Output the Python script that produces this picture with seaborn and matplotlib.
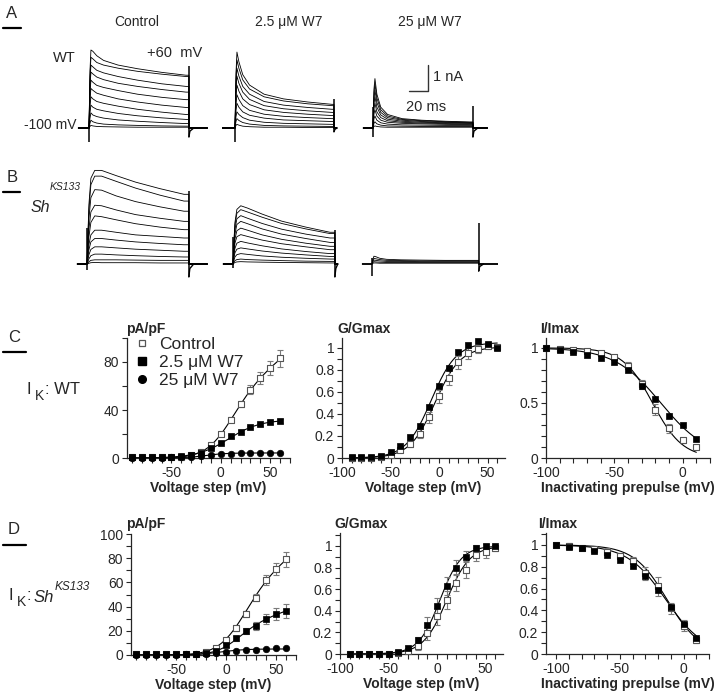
#!/usr/bin/env python3
"""
W7 block of I_K in WT and Sh^KS133 larval muscle: current traces,
I-V, conductance-voltage and steady-state inactivation curves.
"""

import numpy as np
import pandas as pd
import matplotlib
matplotlib.use("Agg")
import matplotlib.pyplot as plt
from matplotlib.lines import Line2D
from matplotlib.ticker import MultipleLocator, FuncFormatter
import seaborn as sns

sns.set_style("ticks")
plt.rcParams['font.family'] = ['Liberation Sans', 'DejaVu Sans']
plt.rcParams['axes.unicode_minus'] = False
NARROW = ['Liberation Sans', 'DejaVu Sans']

# =============================================================================
# DATA
# =============================================================================
# current traces (nA) sampled at these times (ms) after step onset
trace_t = [0, 1, 2, 4, 8, 15, 30, 50, 75, 100]

wt_control = [
    [0, 2.2, 3.0, 2.95, 2.78, 2.6, 2.42, 2.28, 2.14, 2.03],
    [0, 2.0, 2.72, 2.66, 2.52, 2.42, 2.3, 2.18, 2.07, 1.98],
    [0, 1.8, 2.42, 2.35, 2.22, 2.12, 1.98, 1.84, 1.7, 1.6],
    [0, 1.6, 2.15, 2.08, 1.96, 1.86, 1.72, 1.6, 1.48, 1.38],
    [0, 1.35, 1.84, 1.76, 1.64, 1.56, 1.44, 1.3, 1.18, 1.09],
    [0, 1.1, 1.52, 1.45, 1.34, 1.26, 1.12, 1.0, 0.88, 0.79],
    [0, 0.85, 1.2, 1.12, 1.02, 0.95, 0.84, 0.72, 0.61, 0.52],
    [0, 0.6, 0.88, 0.8, 0.72, 0.66, 0.56, 0.47, 0.39, 0.33],
    [0, 0.38, 0.58, 0.5, 0.44, 0.38, 0.31, 0.26, 0.21, 0.17],
    [0, 0.18, 0.3, 0.24, 0.19, 0.15, 0.12, 0.1, 0.08, 0.07],
    [0, 0.06, 0.1, 0.08, 0.06, 0.05, 0.04, 0.03, 0.03, 0.03],
]
wt_w7_low = [
    [0, 2.1, 2.92, 2.55, 2.05, 1.65, 1.3, 1.12, 1.0, 0.91],
    [0, 1.9, 2.62, 2.3, 1.85, 1.5, 1.2, 1.04, 0.93, 0.86],
    [0, 1.65, 2.3, 2.0, 1.6, 1.3, 1.02, 0.88, 0.79, 0.72],
    [0, 1.45, 2.0, 1.72, 1.38, 1.1, 0.86, 0.74, 0.66, 0.6],
    [0, 1.2, 1.65, 1.42, 1.12, 0.9, 0.7, 0.6, 0.53, 0.48],
    [0, 0.92, 1.28, 1.1, 0.86, 0.68, 0.53, 0.45, 0.4, 0.36],
    [0, 0.68, 0.95, 0.8, 0.62, 0.49, 0.38, 0.31, 0.28, 0.25],
    [0, 0.44, 0.62, 0.52, 0.4, 0.3, 0.22, 0.18, 0.16, 0.14],
    [0, 0.25, 0.36, 0.29, 0.21, 0.15, 0.1, 0.08, 0.07, 0.06],
    [0, 0.1, 0.14, 0.11, 0.07, 0.05, 0.03, 0.03, 0.02, 0.02],
]
wt_w7_high = [
    [0, 1.5, 1.9, 1.3, 0.8, 0.52, 0.36, 0.3, 0.26, 0.23],
    [0, 1.35, 1.7, 1.15, 0.7, 0.46, 0.33, 0.28, 0.24, 0.22],
    [0, 1.15, 1.45, 0.98, 0.6, 0.4, 0.3, 0.25, 0.22, 0.2],
    [0, 0.95, 1.2, 0.8, 0.5, 0.34, 0.26, 0.22, 0.2, 0.18],
    [0, 0.75, 0.95, 0.62, 0.4, 0.28, 0.22, 0.19, 0.17, 0.16],
    [0, 0.55, 0.7, 0.46, 0.3, 0.22, 0.18, 0.16, 0.14, 0.13],
    [0, 0.36, 0.46, 0.3, 0.2, 0.15, 0.12, 0.11, 0.1, 0.1],
    [0, 0.18, 0.24, 0.16, 0.11, 0.08, 0.07, 0.06, 0.06, 0.06],
    [0, 0.06, 0.08, 0.06, 0.04, 0.03, 0.03, 0.03, 0.03, 0.03],
]
sh_control = [
    [0, 1.2, 2.3, 3.3, 3.6, 3.6, 3.4, 3.15, 2.9, 2.68],
    [0, 1.1, 2.1, 3.05, 3.38, 3.38, 3.18, 2.92, 2.65, 2.42],
    [0, 0.9, 1.75, 2.55, 2.86, 2.84, 2.62, 2.4, 2.2, 2.03],
    [0, 0.7, 1.35, 2.0, 2.26, 2.24, 2.08, 1.9, 1.76, 1.64],
    [0, 0.55, 1.05, 1.6, 1.85, 1.82, 1.7, 1.55, 1.42, 1.32],
    [0, 0.38, 0.75, 1.12, 1.3, 1.3, 1.22, 1.12, 1.06, 1.0],
    [0, 0.28, 0.55, 0.85, 0.98, 0.98, 0.92, 0.85, 0.79, 0.74],
    [0, 0.18, 0.36, 0.56, 0.66, 0.66, 0.62, 0.57, 0.53, 0.49],
    [0, 0.1, 0.2, 0.32, 0.38, 0.38, 0.35, 0.32, 0.29, 0.27],
    [0, 0.04, 0.09, 0.14, 0.16, 0.16, 0.16, 0.15, 0.14, 0.14],
    [0, 0.01, 0.03, 0.05, 0.06, 0.05, 0.05, 0.05, 0.04, 0.04],
]
sh_w7_low = [
    [0, 0.9, 1.6, 2.1, 2.24, 2.15, 1.92, 1.65, 1.42, 1.22],
    [0, 0.85, 1.5, 1.95, 2.09, 2.0, 1.8, 1.56, 1.35, 1.17],
    [0, 0.75, 1.32, 1.74, 1.86, 1.76, 1.56, 1.34, 1.15, 1.0],
    [0, 0.65, 1.15, 1.52, 1.64, 1.55, 1.35, 1.15, 0.98, 0.83],
    [0, 0.55, 0.96, 1.28, 1.38, 1.3, 1.12, 0.95, 0.8, 0.68],
    [0, 0.45, 0.8, 1.05, 1.13, 1.06, 0.92, 0.78, 0.66, 0.55],
    [0, 0.34, 0.6, 0.8, 0.87, 0.81, 0.7, 0.58, 0.48, 0.4],
    [0, 0.24, 0.43, 0.57, 0.62, 0.58, 0.5, 0.42, 0.35, 0.29],
    [0, 0.15, 0.27, 0.36, 0.4, 0.37, 0.31, 0.26, 0.22, 0.19],
    [0, 0.07, 0.13, 0.17, 0.19, 0.17, 0.15, 0.13, 0.11, 0.1],
    [0, 0.03, 0.06, 0.08, 0.09, 0.08, 0.07, 0.06, 0.05, 0.04],
]
sh_w7_high = [
    [0, 0.2, 0.3, 0.28, 0.22, 0.18, 0.16, 0.15, 0.14, 0.14],
    [0, 0.15, 0.22, 0.2, 0.17, 0.14, 0.13, 0.12, 0.12, 0.12],
    [0, 0.1, 0.15, 0.14, 0.12, 0.1, 0.1, 0.09, 0.09, 0.09],
    [0, 0.06, 0.09, 0.08, 0.07, 0.06, 0.06, 0.06, 0.06, 0.06],
    [0, 0.03, 0.04, 0.04, 0.03, 0.03, 0.03, 0.03, 0.03, 0.03],
]
pulse_end = [103, 102, 103, 105, 105, 110]      # ms
pre_base = [-11, -13, -10, -10, -10, -10]       # ms before step
post_base = [19, 3, 15, 19, 3, 20]              # ms after step end
art_on_lo = [-0.54, -0.54, -0.35, -0.22, -0.15, -0.47]
art_on_hi = [0, 0, 0.8, 1.38, 1.05, 0.25]
art_off_hi = [2.4, 1.1, 0.83, 2.8, 1.32, 1.58]
art_off_lo = [-0.35, -0.15, -0.35, -0.5, -0.5, -0.28]
scale_ms, scale_na = 20, 1

cond_labels = ['Control', '2.5 \u03bcM W7', '25 \u03bcM W7']

# voltage steps / prepulses (mV)
volt = [-90, -80, -70, -60, -50, -40, -30, -20, -10, 0, 10, 20, 30, 40, 50, 60]
prepulse = [-100, -90, -80, -70, -60, -50, -40, -30, -20, -10, 0, 10]

# WT I-V (pA/pF)
wt_iv_ctrl = [0.5, 0.5, 0.5, 0.5, 0.8, 1.2, 2.5, 5, 11, 20, 32, 45, 57, 67, 75, 83]
wt_iv_ctrl_err = [0, 0, 0, 0, 0, 0, 0.5, 0.8, 1, 1.5, 2, 2.5, 3.5, 5, 6, 7]
wt_iv_low = [0.5, 0.5, 0.5, 0.5, 1, 1.5, 2.5, 4.5, 8, 12.5, 18, 22, 26, 28, 30, 31]
wt_iv_low_err = [0, 0, 0, 0, 0, 0, 0, 0.3, 0.5, 0.8, 1, 1, 1, 1.2, 1.5, 1.5]
wt_iv_high = [0.3, 0.3, 0.3, 0.3, 0.5, 0.8, 1.2, 2, 2.5, 3, 3.5, 3.8, 4, 4, 4, 4]

# WT G/Gmax
wt_g_ctrl = [0, 0, 0, 0.01, 0.03, 0.07, 0.13, 0.22, 0.37, 0.56, 0.73, 0.87, 0.95, 0.99, 1.02, 1.01]
wt_g_ctrl_err = [0, 0, 0, 0, 0.01, 0.02, 0.03, 0.04, 0.05, 0.06, 0.07, 0.06, 0.05, 0.04, 0.03, 0.02]
wt_g_low = [0.01, 0.01, 0.01, 0.02, 0.05, 0.11, 0.19, 0.29, 0.46, 0.65, 0.82, 0.96, 1.03, 1.06, 1.04, 1.0]

# WT I/Imax
wt_h_ctrl = [1.0, 0.99, 0.98, 0.97, 0.95, 0.92, 0.84, 0.67, 0.44, 0.27, 0.16, 0.10]
wt_h_ctrl_err = [0, 0.01, 0.01, 0.01, 0.01, 0.02, 0.03, 0.04, 0.05, 0.04, 0.02, 0.02]
wt_h_low = [1.0, 0.98, 0.965, 0.94, 0.905, 0.875, 0.795, 0.65, 0.535, 0.385, 0.30, 0.17]

# Sh I-V (pA/pF)
sh_iv_ctrl = [0.5, 0.5, 0.5, 0.5, 0.5, 0.8, 1.2, 2.5, 6, 12.5, 22, 33.5, 47.5, 62, 71, 79]
sh_iv_ctrl_err = [0, 0, 0, 0, 0, 0, 0, 0.5, 1, 1.5, 2, 2.5, 3, 4, 5, 6]
sh_iv_low = [0.5, 0.5, 0.5, 0.5, 0.5, 0.8, 1.2, 2, 3.6, 8.3, 13.8, 19.5, 24, 29.8, 33.6, 36.4]
sh_iv_low_err = [0, 0, 0, 0, 0, 0, 0, 0.5, 1, 1.5, 2, 2.5, 3, 4, 5, 6]
sh_iv_high = [0.3, 0.3, 0.3, 0.3, 0.3, 0.5, 0.8, 1.2, 1.5, 2.8, 3.5, 4.5, 4.5, 5, 5.5, 5.5]

# Sh G/Gmax
sh_g_ctrl = [0, 0, 0, 0, 0, 0.01, 0.03, 0.07, 0.19, 0.35, 0.50, 0.66, 0.78, 0.92, 0.94, 0.98]
sh_g_ctrl_err = [0, 0, 0, 0, 0, 0, 0.01, 0.03, 0.06, 0.08, 0.08, 0.08, 0.08, 0.06, 0.05, 0.03]
sh_g_low = [0, 0, 0, 0, 0, 0.015, 0.06, 0.13, 0.27, 0.44, 0.63, 0.80, 0.90, 0.98, 1.0, 1.0]
sh_g_low_err = [0, 0, 0, 0, 0, 0, 0.01, 0.03, 0.07, 0.08, 0.08, 0.07, 0.05, 0.03, 0.02, 0.01]

# Sh I/Imax
sh_h_ctrl = [1.0, 0.99, 0.975, 0.96, 0.94, 0.90, 0.85, 0.74, 0.62, 0.42, 0.26, 0.13]
sh_h_ctrl_err = [0.02, 0.03, 0.02, 0.03, 0.03, 0.03, 0.04, 0.06, 0.09, 0.05, 0.05, 0.03]
sh_h_low = [1.0, 0.98, 0.97, 0.945, 0.905, 0.86, 0.81, 0.72, 0.59, 0.43, 0.275, 0.15]

# Boltzmann fits (amplitude, V1/2, slope[, E_rev])
wt_iv_fit = [(0.6, 5, 14, -80), (32, 8, 16, None), (4.2, -15, 10, None)]
sh_iv_fit = [(0.582, 13, 14, -80), (0.2635, 8, 12, -80), (5.0, -5, 12, None)]
wt_g_fit = [(1.01, -4, 13), (1.05, -8, 13)]
sh_g_fit = [(1.0, 10, 12), (1.0, 3, 11)]
wt_h_fit = [(1.0, -22, 11), (1.0, -16, 17)]
sh_h_fit = [(1.0, -13, 13), (1.0, -14, 15)]

# =============================================================================
# HELPERS
# =============================================================================
W, H = 720, 697
fig = plt.figure(figsize=(W / 100, H / 100), dpi=100)


def px_axes(l, t, r, b):
    return fig.add_axes([l / W, 1 - b / H, (r - l) / W, (b - t) / H])


def px_text(x, y, s, **kw):
    kw.setdefault('va', 'center')
    fig.text(x / W, 1 - y / H, s, **kw)


def boltz(v, amp, vh, k, erev=None):
    b = amp / (1 + np.exp((vh - v) / k))
    return b if erev is None else b * (v - erev)


def inact(v, amp, vh, k):
    return amp / (1 + np.exp((v - vh) / k))


MS_PX, NA_PX = 0.97, 26.0
TRACE_ROWS = [(30, 150, 128), (165, 285, 264)]       # top, bottom, baseline px
TRACE_T0 = [[89, 235, 373], [87, 233, 372]]


def draw_traces(ax, sweeps, i):
    recs = []
    end = pulse_end[i]
    for k, sw in enumerate(sweeps):
        ts = [pre_base[i]] + trace_t + [end, end, end + post_base[i]]
        ys = [0] + sw + [sw[-1], 0, 0]
        for j, (tt, yy) in enumerate(zip(ts, ys)):
            recs.append((k, j, tt, yy))
    df = pd.DataFrame(recs, columns=['sweep', 'n', 't', 'i'])
    sns.lineplot(data=df, x='t', y='i', units='sweep', estimator=None,
                 sort=False, color='black', lw=0.6, ax=ax, legend=False)
    ax.vlines(0, art_on_lo[i], art_on_hi[i], color='black', lw=1.1)
    ax.vlines(end, art_off_lo[i], art_off_hi[i], color='black', lw=1.1)
    tail = min(post_base[i], 5)
    ax.plot([end, end + 1, end + tail], [art_off_lo[i], art_off_lo[i] * 0.35, 0],
            color='black', lw=1.0)


def style_plot(ax, xlim, ylim, xmaj, ymaj, ymin_step, xlabel):
    ax.set_xlim(*xlim)
    ax.set_ylim(*ylim)
    ax.xaxis.set_major_locator(MultipleLocator(xmaj))
    ax.xaxis.set_minor_locator(MultipleLocator(10))
    ax.yaxis.set_major_locator(MultipleLocator(ymaj))
    ax.yaxis.set_minor_locator(MultipleLocator(ymin_step))
    ax.yaxis.set_major_formatter(FuncFormatter(lambda v, p: f'{v:g}'))
    ax.xaxis.set_major_formatter(FuncFormatter(lambda v, p: f'{v:g}'))
    ax.tick_params(which='both', direction='out', length=3.5, width=0.8,
                   labelsize=10, pad=2)
    for s in ['top', 'right']:
        ax.spines[s].set_visible(False)
    for s in ['left', 'bottom']:
        ax.spines[s].set_linewidth(0.9)
    ax.set_xlabel(xlabel, fontsize=10, fontweight='bold', labelpad=1)
    ax.set_ylabel('')
    ax.patch.set_alpha(0)


def draw_series(ax, x, y, err, kind):
    if err is not None:
        ax.errorbar(x, y, yerr=err, fmt='none', ecolor='#7a7a7a', elinewidth=0.8,
                    capsize=2.2, capthick=0.8, zorder=2, clip_on=False)
    if kind == 'open':
        sns.scatterplot(x=x, y=y, ax=ax, marker='s', s=20, color='white',
                        edgecolor='#555555', linewidth=0.8, zorder=3, clip_on=False)
    elif kind == 'filled':
        sns.scatterplot(x=x, y=y, ax=ax, marker='s', s=22, color='black',
                        edgecolor='black', linewidth=0.5, zorder=4, clip_on=False)
    else:
        sns.scatterplot(x=x, y=y, ax=ax, marker='o', s=22, color='black',
                        edgecolor='black', linewidth=0.5, zorder=4, clip_on=False)


def fit_line(ax, v, y):
    sns.lineplot(x=v, y=y, ax=ax, color='black', lw=0.8, zorder=1)


# =============================================================================
# A / B : current traces
# =============================================================================
all_sweeps = [wt_control, wt_w7_low, wt_w7_high, sh_control, sh_w7_low, sh_w7_high]
trace_axes = []
for i, sweeps in enumerate(all_sweeps):
    top, bot, base = TRACE_ROWS[i // 3]
    t0 = TRACE_T0[i // 3][i % 3]
    ax = px_axes(t0 - 16 * MS_PX, top, t0 + 130 * MS_PX, bot)
    ax.set_xlim(-16, 130)
    ax.set_ylim(-(bot - base) / NA_PX, (base - top) / NA_PX)
    ax.axis('off')
    draw_traces(ax, sweeps, i)
    trace_axes.append(ax)

# scale bar in the 25 uM WT panel
sb = trace_axes[2]
sb.plot([57 - scale_ms, 57, 57], [1.42, 1.42, 1.42 + scale_na], color='#333333', lw=1.0)
px_text(433, 77, '1 nA', fontsize=10.5, family=NARROW)
px_text(406, 107, '20 ms', fontsize=10.5, family=NARROW)

for x, lab in zip([137, 289, 430], cond_labels):
    px_text(x, 22, lab, ha='center', fontsize=10, family=NARROW)
px_text(53, 58, 'WT', fontsize=10.5, family=NARROW)
px_text(147, 53, '+60  mV', fontsize=10.5, family=NARROW)
px_text(24, 125, '-100 mV', fontsize=10, family=NARROW)
px_text(31, 208, 'Sh', fontsize=11.5, style='italic', family=NARROW)
px_text(50, 187, 'KS133', fontsize=7.5, style='italic', family=NARROW)

# panel letters with underline
for lab, (x, y, yl, xr) in zip('ABCD', [(12, 14, 28, 21), (12, 177, 192, 20),
                                        (14, 337, 352, 26), (14, 530, 545, 26)]):
    px_text(x, y, lab, ha='center', fontsize=12, family=NARROW)
    fig.add_artist(Line2D([3 / W, xr / W], [1 - yl / H, 1 - yl / H],
                          color='black', lw=1.6))

# =============================================================================
# C / D : I-V, G/Gmax, I/Imax
# =============================================================================
vv = np.linspace(-90, 60, 200)
pv = np.linspace(-100, 10, 200)

rows = [
    dict(iv=(wt_iv_ctrl, wt_iv_ctrl_err, wt_iv_low, wt_iv_low_err, wt_iv_high), ivfit=wt_iv_fit,
         g=(wt_g_ctrl, wt_g_ctrl_err, wt_g_low, None), gfit=wt_g_fit,
         h=(wt_h_ctrl, wt_h_ctrl_err, wt_h_low, None), hfit=wt_h_fit,
         boxes=[(127, 338, 290, 458), (342, 338, 505, 458), (546, 338, 710, 458)],
         lims=[((-95, 70), (0, 100)), ((-100, 68), (0, 1.09)), ((-100, 20), (0, 1.09))],
         yticks=[(40, 20), (0.2, 0.1), (0.5, 0.1)],
         ylab_x=[126, 337, 540], ylab_y=329),
    dict(iv=(sh_iv_ctrl, sh_iv_ctrl_err, sh_iv_low, sh_iv_low_err, sh_iv_high), ivfit=sh_iv_fit,
         g=(sh_g_ctrl, sh_g_ctrl_err, sh_g_low, sh_g_low_err), gfit=sh_g_fit,
         h=(sh_h_ctrl, sh_h_ctrl_err, sh_h_low, None), hfit=sh_h_fit,
         boxes=[(131, 534, 296, 655), (340, 533, 503, 654), (546, 533, 709, 654)],
         lims=[((-95, 70), (0, 100)), ((-100, 68), (0, 1.12)), ((-108, 20), (0, 1.11))],
         yticks=[(20, 10), (0.2, 0.1), (0.2, 0.1)],
         ylab_x=[126, 334, 538], ylab_y=524),
]
ylabels = ['pA/pF', 'G/Gmax', 'I/Imax']
xlabels = ['Voltage step (mV)', 'Voltage step (mV)', 'Inactivating prepulse (mV)']

for r in rows:
    axs = [px_axes(*b) for b in r['boxes']]
    for j, ax in enumerate(axs):
        (xl, yl), (ym, ymin) = r['lims'][j], r['yticks'][j]
        style_plot(ax, xl, yl, 50, ym, ymin, xlabels[j])
        px_text(r['ylab_x'][j], r['ylab_y'], ylabels[j], fontsize=10, fontweight='bold')

    # I-V
    ax = axs[0]
    for p in r['ivfit']:
        fit_line(ax, vv, boltz(vv, *p))
    c, ce, lo, loe, hi = r['iv']
    draw_series(ax, volt, c, ce, 'open')
    draw_series(ax, volt, lo, loe, 'filled')
    draw_series(ax, volt, hi, None, 'circle')

    # G/Gmax
    ax = axs[1]
    for p in r['gfit']:
        fit_line(ax, vv, boltz(vv, *p))
    c, ce, lo, loe = r['g']
    draw_series(ax, volt, c, ce, 'open')
    draw_series(ax, volt, lo, loe, 'filled')

    # I/Imax
    ax = axs[2]
    for p in r['hfit']:
        fit_line(ax, pv, inact(pv, *p))
    c, ce, lo, loe = r['h']
    draw_series(ax, prepulse, c, ce, 'open')
    draw_series(ax, prepulse, lo, loe, 'filled')

    if r is rows[0]:
        handles = [Line2D([], [], marker='s', ls='none', mfc='white', mec='#555555', ms=5, mew=0.9),
                   Line2D([], [], marker='s', ls='none', color='black', ms=5.5),
                   Line2D([], [], marker='o', ls='none', color='black', ms=5.5)]
        axs[0].legend(handles, cond_labels, loc='upper left', frameon=False,
                      bbox_to_anchor=(135 / W, 1 - 337 / H), bbox_transform=fig.transFigure,
                      fontsize=12.5, handlelength=0.8, handletextpad=0.6,
                      labelspacing=0.15, borderpad=0, borderaxespad=0)

# row labels
px_text(27, 389, 'I', fontsize=12)
px_text(35, 396, 'K', fontsize=10)
px_text(45, 389, ': WT', fontsize=12)
px_text(8, 596, 'I', fontsize=12)
px_text(17, 602, 'K', fontsize=10)
px_text(27, 596, ':', fontsize=12)
px_text(34, 597, 'Sh', fontsize=12, style='italic')
px_text(55, 587, 'KS133', fontsize=8.5, style='italic')

fig.savefig('out.png', dpi=100)
